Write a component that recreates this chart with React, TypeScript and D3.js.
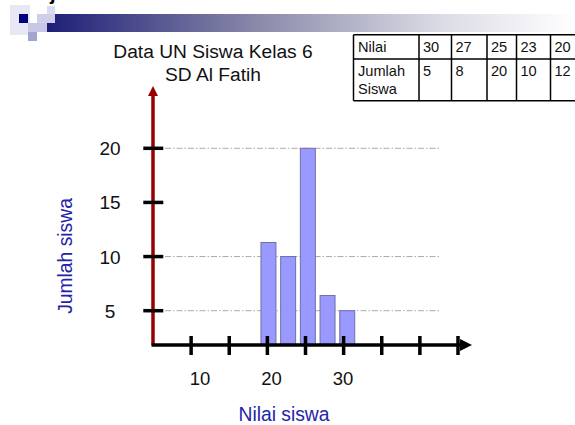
import React from "react";
import * as d3 from "d3";

// ---- data ----
const barCategories = ["20", "23", "25", "27", "30"];
const barValues = [11.3, 10, 20, 6.4, 5];
const yTickValues = [5, 10, 15, 20];
const gridValues = [5, 10, 20];
const xTickValues = [5, 10, 15, 20, 25, 30, 35, 40];
const xLabelValues = [10, 20, 30];
const tableNilai = [30, 27, 25, 23, 20];
const tableJumlah = [5, 8, 20, 10, 12];
const titleLines = ["Data UN Siswa Kelas 6", "SD Al Fatih"];

const W = 575;
const H = 425;
const FONT = "'Liberation Sans', Arial, sans-serif";

export default function App() {
  const axisX = 153;
  const axisY = 345;

  const yScale = d3.scaleLinear().domain([5, 20]).range([310.7, 148.3]);
  const xTickScale = d3.scaleLinear().domain([0, 40]).range([axisX, 458]);
  const xLabelScale = d3.scaleLinear().domain([10, 30]).range([200, 343]);
  const band = d3
    .scaleBand<string>()
    .domain(barCategories)
    .range([258.6, 357.1])
    .paddingInner(0.24)
    .paddingOuter(0.12);

  // table layout
  const colX = [353.5, 419, 451.5, 487, 516.5, 550.5, 600];
  const rowY = [34.7, 59, 100.7];

  return (
    <svg
      width={W}
      height={H}
      style={{ position: "absolute", left: 0, top: 0, background: "#fff" }}
      fontFamily={FONT}
    >
      <defs>
        <linearGradient id="topbar" x1="0" x2="1" y1="0" y2="0">
          <stop offset="0" stopColor="#1e1e78" />
          <stop offset="0.4" stopColor="#8a8aaa" />
          <stop offset="0.75" stopColor="#dcdce6" />
          <stop offset="1" stopColor="#ffffff" />
        </linearGradient>
      </defs>

      {/* top decoration */}
      <rect x={47} y={14} width={528} height={18} fill="url(#topbar)" />
      <rect x={10} y={5} width={20} height={30} fill="#e8e8f5" />
      <rect x={28} y={23} width={19} height={9} fill="#c8c8e6" />
      <rect x={28} y={32} width={9} height={9} fill="#a4a4d2" />
      <rect x={37} y={14} width={18} height={9} fill="#cfcfea" />
      <rect x={47} y={6} width={8} height={8} fill="#dcdcf0" />
      <rect x={19} y={14} width={9} height={9} fill="#000080" />
      <text x={50} y={0} fontSize={20} fontWeight="bold" fill="#000">j</text>

      {/* title */}
      {titleLines.map((t, i) => (
        <text key={i} x={213} y={58 + i * 22.5} fontSize={19.2} textAnchor="middle" fill="#111">
          {t}
        </text>
      ))}

      {/* table */}
      <g stroke="#000" strokeWidth={1.5}>
        {rowY.map((y, i) => (
          <line key={"r" + i} x1={colX[0]} x2={W} y1={y} y2={y} />
        ))}
        {colX.slice(0, 6).map((x, i) => (
          <line key={"c" + i} x1={x} x2={x} y1={rowY[0]} y2={rowY[2]} />
        ))}
      </g>
      <g fontSize={14.6} fill="#111">
        <text x={colX[0] + 4.5} y={52}>Nilai</text>
        <text x={colX[0] + 4.5} y={76}>Jumlah</text>
        <text x={colX[0] + 4.5} y={93.5}>Siswa</text>
        {tableNilai.map((v, i) => (
          <text key={"n" + i} x={colX[i + 1] + 4} y={52}>{v}</text>
        ))}
        {tableJumlah.map((v, i) => (
          <text key={"j" + i} x={colX[i + 1] + 4} y={76}>{v}</text>
        ))}
      </g>

      {/* gridlines */}
      {gridValues.map((v) => (
        <line
          key={"g" + v}
          x1={165}
          x2={440}
          y1={yScale(v)}
          y2={yScale(v)}
          stroke="#aaaaaa"
          strokeWidth={1}
          strokeDasharray="6,2,1.5,2"
        />
      ))}

      {/* bars */}
      {barValues.map((v, i) => (
        <rect
          key={"b" + i}
          x={band(barCategories[i])}
          y={yScale(v)}
          width={band.bandwidth()}
          height={axisY - yScale(v)}
          fill="#9999ff"
          stroke="#6f6fa8"
          strokeWidth={1}
        />
      ))}

      {/* y axis */}
      <line x1={axisX} x2={axisX} y1={94} y2={axisY} stroke="#990000" strokeWidth={3.5} />
      <path d={`M${axisX - 5},96 L${axisX},86 L${axisX + 5},96 Z`} fill="#990000" />
      {yTickValues.map((v) => (
        <g key={"yt" + v}>
          <line x1={143.3} x2={163.3} y1={yScale(v)} y2={yScale(v)} stroke="#000" strokeWidth={3.5} />
          <text x={110} y={yScale(v) + 7} fontSize={19} textAnchor="middle" fill="#111">
            {v}
          </text>
        </g>
      ))}

      {/* x axis */}
      <line x1={axisX - 1.5} x2={462} y1={axisY} y2={axisY} stroke="#000" strokeWidth={3.5} />
      <path d={`M460,339 L472,${axisY} L460,351 Z`} fill="#000" />
      {xTickValues.map((v) => (
        <line
          key={"xt" + v}
          x1={xTickScale(v)}
          x2={xTickScale(v)}
          y1={336}
          y2={355}
          stroke="#000"
          strokeWidth={3.5}
        />
      ))}
      {xLabelValues.map((v) => (
        <text key={"xl" + v} x={xLabelScale(v)} y={385} fontSize={18.5} textAnchor="middle" fill="#111">
          {v}
        </text>
      ))}

      {/* axis titles */}
      <text
        transform={`translate(71.5,256) rotate(-90)`}
        fontSize={19.3}
        textAnchor="middle"
        fill="#2424aa"
      >
        Jumlah siswa
      </text>
      <text x={284} y={420.5} fontSize={19.3} textAnchor="middle" fill="#2424aa">
        Nilai siswa
      </text>
    </svg>
  );
}
